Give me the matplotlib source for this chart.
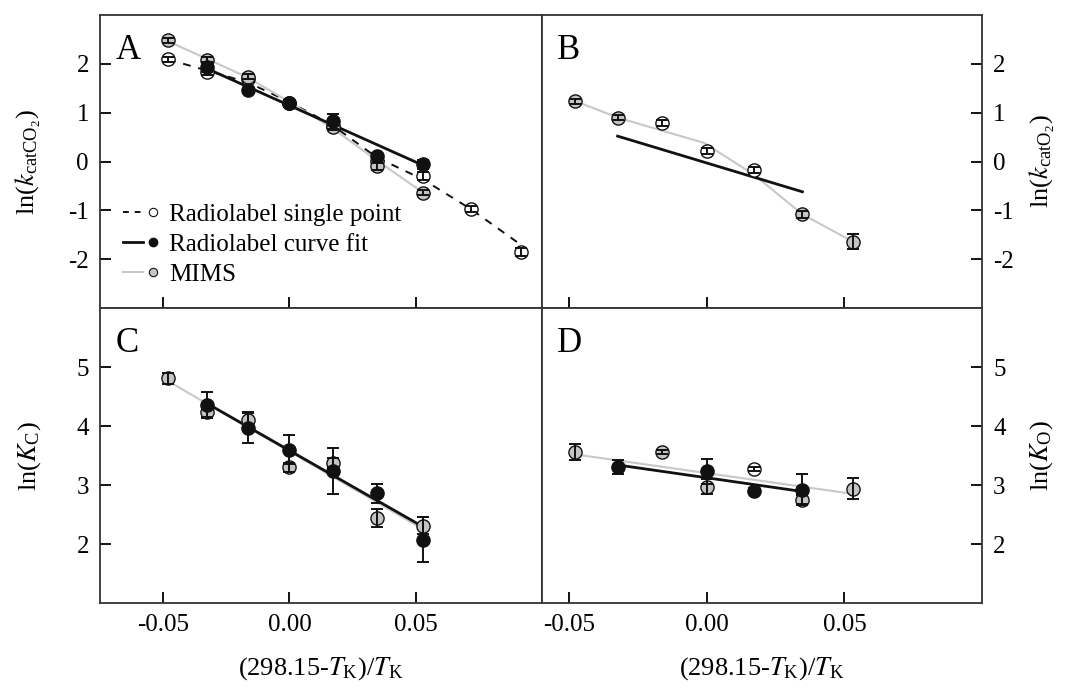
import matplotlib
matplotlib.use("Agg")
import matplotlib.pyplot as plt
from matplotlib.lines import Line2D
from matplotlib.legend_handler import HandlerTuple

plt.rcParams["font.family"] = ["Liberation Serif", "DejaVu Serif"]
plt.rcParams["mathtext.fontset"] = "stix"
plt.rcParams["axes.unicode_minus"] = False

GREY_FILL, GREY_LINE, INK = "#c4c4c4", "#c8c8c8", "#111111"

# ---------- panel A: ln(kcatCO2) ----------
a_open_x = [-0.048, -0.0325, -0.0165, 0.0, 0.0171, 0.0347, 0.053, 0.072, 0.0915]
a_open_y = [2.09, 1.83, 1.68, 1.20, 0.72, 0.02, -0.30, -0.98, -1.85]
a_open_e = [0.05, 0.05, 0.05, 0.05, 0.05, 0.05, 0.08, 0.06, 0.08]
a_dash_y = [2.09, 1.86, 1.62, 1.22, 0.74, 0.08, -0.37, -0.98, -1.70]
a_mims_x = [-0.048, -0.0325, -0.0165, 0.0, 0.0171, 0.0347, 0.053]
a_mims_y = [2.48, 2.08, 1.74, 1.20, 0.70, -0.10, -0.64]
a_mims_e = [0.05, 0.05, 0.06, 0.05, 0.06, 0.07, 0.05]
a_mims_fit = [2.46, 2.10, 1.72, 1.22, 0.68, 0.02, -0.64]
a_fit_x = [-0.0325, -0.0165, 0.0, 0.0171, 0.0347, 0.053]
a_fit_y = [1.93, 1.46, 1.20, 0.82, 0.12, -0.06]
a_fit_e = [0.10, 0.05, 0.06, 0.16, 0.06, 0.10]
a_line_x = [-0.0325, 0.053]
a_line_y = [1.90, -0.08]

# ---------- panel B: ln(kcatO2) ----------
b_mims_x = [-0.048, -0.0325, 0.0347, 0.053]
b_mims_y = [1.23, 0.90, -1.08, -1.64]
b_mims_e = [0.05, 0.06, 0.07, 0.16]
b_open_x = [-0.0165, 0.0, 0.0171]
b_open_y = [0.78, 0.21, -0.18]
b_open_e = [0.06, 0.06, 0.06]
b_mims_line_x = [-0.048, -0.0325, -0.001, 0.0171, 0.0347, 0.053]
b_mims_line_y = [1.24, 0.90, 0.38, -0.27, -1.08, -1.64]
b_line_x = [-0.0325, 0.0347]
b_line_y = [0.52, -0.62]

# ---------- panel C: ln(KC) ----------
c_mims_x = [-0.048, -0.0325, -0.0165, 0.0, 0.0171, 0.0347, 0.053]
c_mims_y = [4.81, 4.24, 4.10, 3.30, 3.38, 2.44, 2.31]
c_mims_e = [0.09, 0.09, 0.13, 0.08, 0.08, 0.15, 0.14]
c_fit_x = [-0.0325, -0.0165, 0.0, 0.0171, 0.0347, 0.053]
c_fit_y = [4.36, 3.97, 3.60, 3.23, 2.86, 2.07]
c_fit_e = [0.22, 0.25, 0.25, 0.39, 0.16, 0.38]
c_line_x = [-0.0325, 0.053]
c_line_y = [4.38, 2.29]
c_mims_line_x = [-0.048, 0.053]
c_mims_line_y = [4.76, 2.25]

# ---------- panel D: ln(KO) ----------
d_mims_x = [-0.048, -0.0165, 0.0, 0.0347, 0.053]
d_mims_y = [3.56, 3.56, 2.97, 2.75, 2.94]
d_mims_e = [0.14, 0.04, 0.13, 0.08, 0.18]
d_open_x = [0.0171]
d_open_y = [3.27]
d_open_e = [0.04]
d_fit_x = [-0.0325, 0.0, 0.0171, 0.0347]
d_fit_y = [3.30, 3.23, 2.90, 2.92]
d_fit_e = [0.12, 0.21, 0.05, 0.26]
d_line_x = [-0.0325, 0.0347]
d_line_y = [3.34, 2.89]
d_mims_line_x = [-0.048, 0.053]
d_mims_line_y = [3.52, 2.85]

XTICKS = [-0.05, 0.0, 0.05]
XTICKLABELS = ["-0.05", "0.00", "0.05"]


def pts(ax, x, y, e, face, z):
    ax.plot(x, y, "o", ms=9.5, mfc=face, mec=INK, mew=1.0, zorder=z)
    ax.errorbar(x, y, yerr=e, fmt="none", ecolor=INK, elinewidth=1.4,
                capsize=4.5, capthick=1.4, zorder=z + 0.5)


def style(ax, letter, right=False):
    for s in ax.spines.values():
        s.set_linewidth(1.3)
        s.set_color("#333333")
    ax.tick_params(direction="in", length=8, width=1.3, labelsize=18, pad=8)
    ax.set_xticks(XTICKS)
    ax.text(0.035, 0.935, letter, transform=ax.transAxes, fontsize=25,
            va="top", ha="left")
    if right:
        ax.yaxis.tick_right()
        ax.yaxis.set_label_position("right")


fig = plt.figure(figsize=(10.65, 6.88), dpi=100)
axA = fig.add_axes([0.0939, 0.5523, 0.4150, 0.4259])
axB = fig.add_axes([0.5089, 0.5523, 0.4131, 0.4259])
axC = fig.add_axes([0.0939, 0.1235, 0.4150, 0.4288])
axD = fig.add_axes([0.5089, 0.1235, 0.4131, 0.4288])

# A
axA.plot(a_open_x, a_dash_y, color=INK, lw=1.4, ls=(0, (4, 4)), zorder=2)
axA.plot(a_mims_x, a_mims_fit, color=GREY_LINE, lw=1.5, zorder=2)
axA.plot(a_line_x, a_line_y, color=INK, lw=2.0, zorder=2)
pts(axA, a_open_x, a_open_y, a_open_e, "white", 3)
pts(axA, a_mims_x, a_mims_y, a_mims_e, GREY_FILL, 4)
pts(axA, a_fit_x, a_fit_y, a_fit_e, INK, 5)

# B
axB.plot(b_mims_line_x, b_mims_line_y, color=GREY_LINE, lw=1.5, zorder=2)
axB.plot(b_line_x, b_line_y, color=INK, lw=2.0, zorder=2)
pts(axB, b_open_x, b_open_y, b_open_e, "white", 3)
pts(axB, b_mims_x, b_mims_y, b_mims_e, GREY_FILL, 4)

# C
axC.plot(c_mims_line_x, c_mims_line_y, color=GREY_LINE, lw=1.5, zorder=2)
axC.plot(c_line_x, c_line_y, color=INK, lw=2.0, zorder=2)
pts(axC, c_mims_x, c_mims_y, c_mims_e, GREY_FILL, 3)
pts(axC, c_fit_x, c_fit_y, c_fit_e, INK, 5)

# D
axD.plot(d_mims_line_x, d_mims_line_y, color=GREY_LINE, lw=1.5, zorder=2)
axD.plot(d_line_x, d_line_y, color=INK, lw=2.0, zorder=2)
pts(axD, d_open_x, d_open_y, d_open_e, "white", 3)
pts(axD, d_mims_x, d_mims_y, d_mims_e, GREY_FILL, 4)
pts(axD, d_fit_x, d_fit_y, d_fit_e, INK, 5)

style(axA, "A")
style(axB, "B", right=True)
style(axC, "C")
style(axD, "D", right=True)

for ax in (axA, axC):
    ax.set_xlim(-0.075, 0.10)
for ax in (axB, axD):
    ax.set_xlim(-0.06, 0.10)
for ax in (axA, axB):
    ax.set_ylim(-3, 3)
    ax.set_yticks([-2, -1, 0, 1, 2])
    ax.set_xticklabels([])
for ax in (axC, axD):
    ax.set_ylim(1, 6)
    ax.set_yticks([2, 3, 4, 5])
    ax.set_xticklabels(XTICKLABELS)
    ax.set_xlabel(r"(298.15-$T_\mathregular{K}$)/$T_\mathregular{K}$", fontsize=19)
    ax.xaxis.set_label_coords(0.5, -0.175)

axA.set_ylabel(r"ln($k_\mathregular{catCO_2}$)", fontsize=19)
axC.set_ylabel(r"ln($K_\mathregular{C}$)", fontsize=19)
axB.set_ylabel(r"ln($k_\mathregular{catO_2}$)", fontsize=19)
axD.set_ylabel(r"ln($K_\mathregular{O}$)", fontsize=19)
for ax in (axA, axC):
    ax.yaxis.set_label_coords(-0.13, 0.5)
for ax in (axB, axD):
    ax.yaxis.set_label_coords(1.105, 0.5)

# legend: line segment followed by a small marker
h_single = (Line2D([], [], color=INK, lw=1.4, ls=(0, (3, 3))),
            Line2D([], [], ls="none", marker="o", ms=6, mfc="white", mec=INK, mew=0.8))
h_fit = (Line2D([], [], color=INK, lw=2.0),
         Line2D([], [], ls="none", marker="o", ms=6, mfc=INK, mec=INK))
h_mims = (Line2D([], [], color=GREY_LINE, lw=1.5),
          Line2D([], [], ls="none", marker="o", ms=6, mfc=GREY_FILL, mec=INK, mew=0.8))
axA.legend([h_single, h_fit, h_mims],
           ["Radiolabel single point", "Radiolabel curve fit", "MIMS"],
           handler_map={tuple: HandlerTuple(ndivide=None, pad=0)},
           loc="lower left", bbox_to_anchor=(0.0, 0.0), frameon=False,
           fontsize=18, handlelength=1.6, handletextpad=0.25, labelspacing=0.3)

fig.savefig("out.png", dpi=100)
